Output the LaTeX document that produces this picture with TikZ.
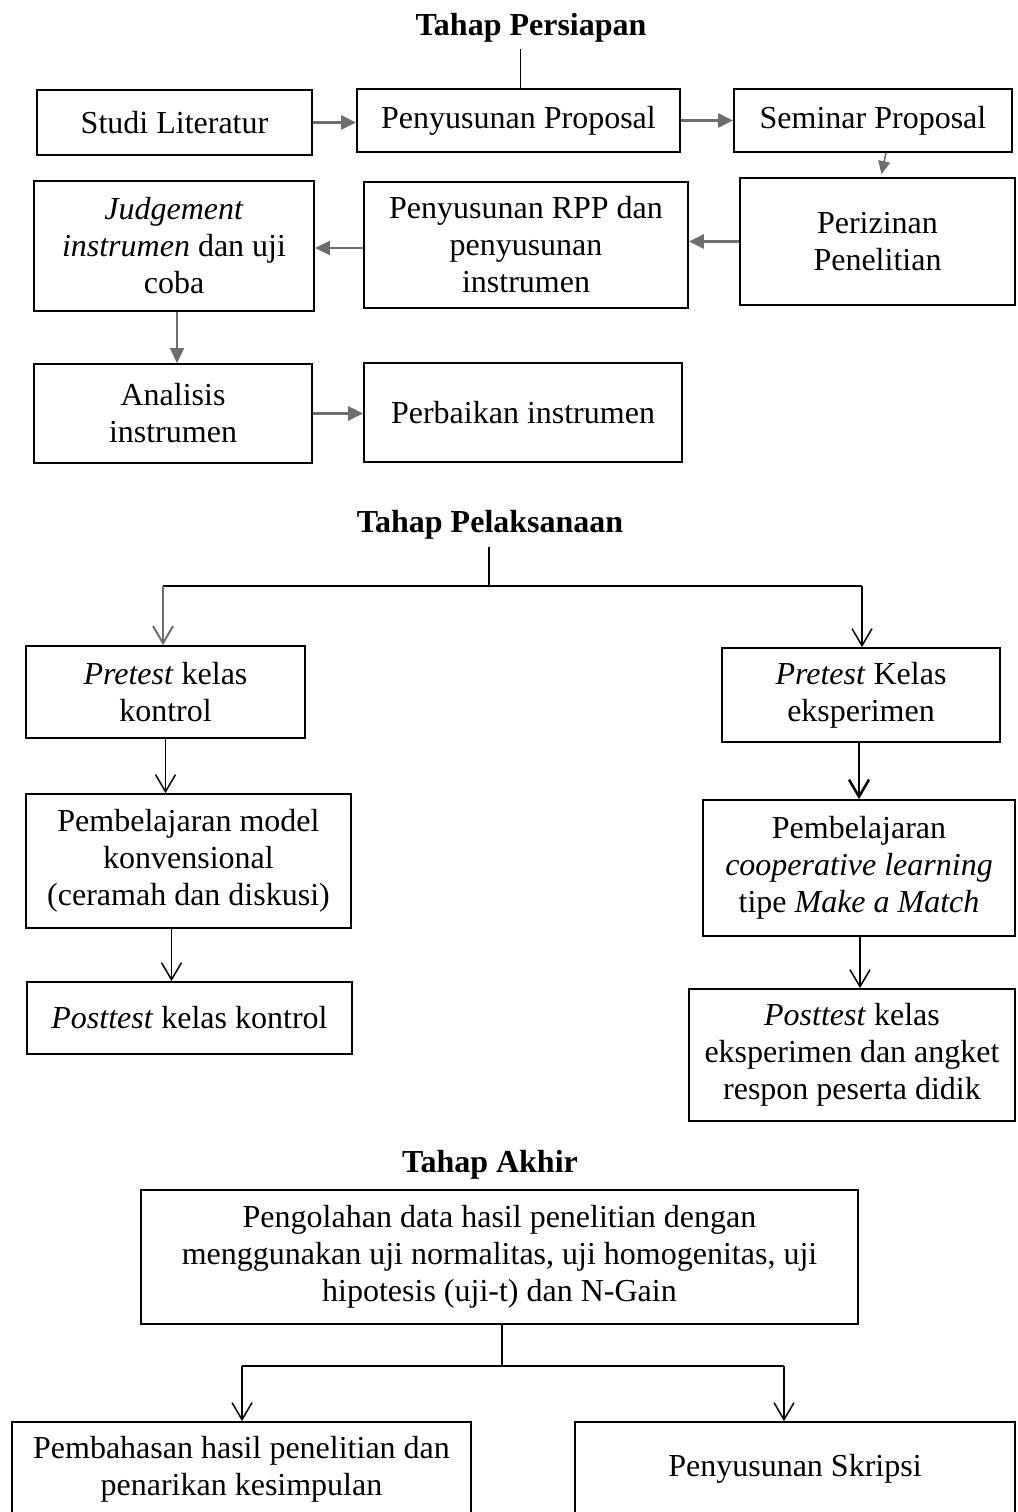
\documentclass[tikz,border=0pt]{standalone}
\usepackage{fontspec}
\setmainfont{Liberation Serif}
\usetikzlibrary{arrows.meta}
\definecolor{arrgray}{HTML}{6E6E6E}
\tikzset{
  box/.style={draw=black, line width=1.8pt, inner sep=0pt, align=center,
    font=\fontsize{32}{37}\selectfont},
  ttl/.style={font=\fontsize{32}{37}\selectfont\bfseries, inner sep=0pt},
  garr/.style={draw=arrgray, line width=2.4pt, -{Triangle[length=15pt,width=14pt]}},
  varr/.style={line width=1.5pt, -{Straight Barb[length=17pt,width=20pt]}},
  conn/.style={line width=1.6pt},
}
\newcommand\bx[6]{\node[box, minimum width={(#4-#2)*1pt}, minimum height={(#5-#3)*1pt}] (#1) at ({(#2+#4)/2},{(#3+#5)/2}) {#6};}
\begin{document}
\begin{tikzpicture}[x=1pt,y=-1pt]
\useasboundingbox (0,0) rectangle (1017,1512);
\fill[white] (0,0) rectangle (1017,1512);
\begin{scope}
\clip (0,0) rectangle (1017,1512);
% ---- Tahap Persiapan
\node[ttl] (t1) at (531,28) {Tahap Persiapan};
\bx{st}{37}{90}{312}{155}{Studi Literatur}
\bx{pp}{357}{89}{680}{152}{Penyusunan Proposal}
\bx{sp}{734}{89}{1012}{152}{Seminar Proposal}
\bx{jd}{34}{181}{314}{311}{\textit{Judgement}\\\textit{instrumen} dan uji\\coba}
\bx{rpp}{364}{182}{688}{308}{Penyusunan RPP dan\\penyusunan\\instrumen}
\bx{pz}{740}{178}{1015}{305}{Perizinan\\Penelitian}
\bx{an}{34}{364}{312}{463}{Analisis\\instrumen}
\bx{pi}{364}{363}{682}{462}{Perbaikan instrumen}
\draw[conn] ([xshift=2pt]pp.north) -- ([xshift=2pt,yshift=39pt]pp.north);
\draw[garr] (st.east) -- (st.east -| pp.west);
\draw[garr] (pp.east) -- (pp.east -| sp.west);
\draw[garr, line width=1.6pt, -{Triangle[length=13pt,width=12pt]}] ([xshift=13pt]sp.south) -- ([xshift=4pt,yshift=3pt]pz.north);
\draw[garr] (pz.west) -- (pz.west -| rpp.east);
\draw[garr] ([yshift=-3pt]rpp.west) -- ([yshift=-3pt]rpp.west -| jd.east);
\draw[garr, line width=1.6pt] ([xshift=3pt]jd.south) -- ([xshift=3pt]jd.south |- an.north);
\draw[garr] (an.east) -- (an.east -| pi.west);
% ---- Tahap Pelaksanaan
\node[ttl] (t2) at (490,525) {Tahap Pelaksanaan};
\bx{pk}{26}{646}{305}{738}{\textit{Pretest} kelas\\kontrol}
\bx{pe}{722}{648}{1000}{742}{\textit{Pretest} Kelas\\eksperimen}
\bx{km}{26}{794}{351}{928}{Pembelajaran model\\konvensional\\(ceramah dan diskusi)}
\bx{co}{703}{800}{1015}{936}{Pembelajaran\\\textit{cooperative learning}\\tipe \textit{Make a Match}}
\bx{pkk}{27}{982}{352}{1054}{\textit{Posttest} kelas kontrol}
\bx{pse}{689}{989}{1015}{1121}{\textit{Posttest} kelas\\eksperimen dan angket\\respon peserta didik}
\coordinate (s2) at (489,586);
\coordinate (l2) at (163,586);
\coordinate (r2) at (862,586);
\draw[conn] (s2 |- t2.south) ++(0,7) -- (s2);
\draw[line width=2pt] (l2) -- (r2);
\draw[varr, arrgray, line width=2pt] (l2) -- (l2 |- pk.north);
\draw[varr] (r2) -- (r2 |- pe.north);
\draw[varr] (pk.south) -- (pk.south |- km.north);
\draw[varr] ([xshift=-17pt]km.south) -- ([xshift=-17pt]km.south |- pkk.north);
\draw[varr, line width=2.5pt] ([xshift=-2pt]pe.south) -- ([xshift=-2pt]pe.south |- co.north);
\draw[varr] ([xshift=1pt]co.south) -- ([xshift=1pt]co.south |- pse.north);
% ---- Tahap Akhir
\node[ttl] (t3) at (490,1165) {Tahap Akhir};
\bx{pd}{141}{1190}{858}{1324}{Pengolahan data hasil penelitian dengan\\menggunakan uji normalitas, uji homogenitas, uji\\hipotesis (uji-t) dan N-Gain}
\bx{pb}{12}{1422}{471}{1516}{Pembahasan hasil penelitian dan\\penarikan kesimpulan}
\bx{ps}{575}{1422}{1015}{1516}{Penyusunan Skripsi}
\coordinate (s3) at (502,1366);
\coordinate (l3) at (242,1366);
\coordinate (r3) at (784,1366);
\draw[conn] (s3 |- pd.south) -- (s3);
\draw[line width=1.8pt] (l3) -- (r3);
\draw[varr] (l3) -- (l3 |- pb.north);
\draw[varr] (r3) -- (r3 |- ps.north);
\end{scope}
\end{tikzpicture}
\end{document}
